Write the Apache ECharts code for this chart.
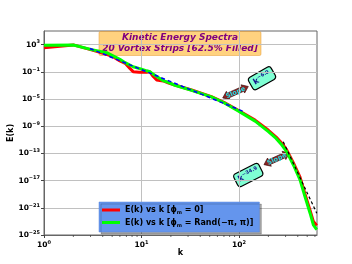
<!DOCTYPE html>
<html><head><meta charset="utf-8">
<script src="https://cdn.jsdelivr.net/npm/echarts@6/dist/echarts.min.js"></script>
<style>html,body{margin:0;padding:0;background:#fff}#c{width:352px;height:264px}</style>
</head><body><div id="c"></div>
<script>
// ---- data ----
const redK = [1, 2, 3, 4.4, 5.2, 6, 6.8, 7.6, 8.2, 9.5, 11.3, 12.2, 13.2, 14.3, 16.7, 19, 22, 32.6, 52, 70, 98, 146, 200, 240, 275, 308, 361, 422, 475, 535, 578, 626];
const redE = [3.5e2, 9.0e2, 1.8e2, 3.7e1, 1.4e1, 4.0, 1.8, 3.2e-1, 1.05e-1, 8.9e-2, 8.5e-2, 1.0e-1, 2.0e-2, 6.3e-3, 4.5e-3, 2.2e-3, 1.15e-3, 2.1e-4, 2.2e-5, 3.2e-6, 2.2e-7, 7.9e-9, 2.5e-10, 2.5e-11, 3.2e-12, 3.2e-13, 4.0e-15, 3.2e-17, 1.0e-19, 4.0e-22, 1.0e-23, 2.5e-24];
const greenK = [1, 2, 3, 4.4, 6, 6.8, 8.2, 10, 11.3, 12.2, 13, 14.3, 16.7, 19, 22, 32.6, 52, 70, 98, 146, 200, 240, 275, 308, 361, 422, 475, 535, 578, 626];
const greenE = [8.3e2, 8.9e2, 2.0e2, 6.5e1, 6.9, 2.2, 5.6e-1, 2.5e-1, 1.4e-1, 1.0e-1, 5.0e-2, 2.0e-2, 5.0e-3, 2.5e-3, 1.05e-3, 1.9e-4, 2.0e-5, 2.8e-6, 1.8e-7, 5.6e-9, 1.6e-10, 1.6e-11, 1.7e-12, 1.8e-13, 2.0e-15, 1.3e-17, 4.0e-20, 1.6e-22, 3.2e-24, 6.3e-25];
const fit6K = [2.96, 115];
const fit6E = [2.7e2, 1.2e-7];
const fit34K = [284, 626];
const fit34E = [5.0e-12, 1.6e-22];
const xTicks = [1, 10, 100];
const yTicks = [1e-25, 1e-21, 1e-17, 1e-13, 1e-9, 1e-5, 1e-1, 1e3];
const minorK = [2, 3, 4, 5, 6, 7, 8, 9, 20, 30, 40, 50, 60, 70, 80, 90, 200, 300, 400, 500, 600];
const xMin = 1, xMax = 630;
const yMin = 1e-25, yMax = 1e5;
const titleLines = ['Kinetic Energy Spectra', '20 Vortex Strips [62.5% Filled]'];
const seriesNames = ['E(k) vs k [ϕm = 0]', 'E(k) vs k [ϕm = Rand(−π, π)]'];
const slopeLabels = ['−6.0', '−34.9'];
const xName = 'k', yName = 'E(k)';

// ---- chart ----
const FONT = 'DejaVu Sans';
const chart = echarts.init(document.getElementById('c'), null, {renderer: 'canvas'});
const pairs = (ks, es) => ks.map((k, i) => [k, es[i]]);
function powLabel(v) {
  const e = Math.round(Math.log10(v));
  return '{b|10}{s|' + String(e).replace('-', '−') + '}';
}
const tickRich = {
  b: {fontFamily: FONT, fontWeight: 'bold', fontSize: 7.5, color: '#000', lineHeight: 10},
  s: {fontFamily: FONT, fontWeight: 'bold', fontSize: 5, color: '#000', verticalAlign: 'top', lineHeight: 10}
};
function legendFmt(name) {
  const i = seriesNames.indexOf(name);
  if (i === 0) return '{t|E(k) vs k [}{p|ϕ}{s|m}{t| = 0]}';
  return '{t|E(k) vs k [}{p|ϕ}{s|m}{t| = Rand(−π, π)]}';
}
function annot(cx, cy, ang, bx, by, bang, bw, sup) {
  return [
    {type: 'group', x: cx, y: cy, rotation: ang, z: 100, children: [
      {type: 'polygon', shape: {points: [[-14,0],[-8,-4.5],[-8,-2.5],[8,-2.5],[8,-4.5],[14,0],[8,4.5],[8,2.5],[-8,2.5],[-8,4.5]]},
        style: {fill: '#8b2323', stroke: '#3a0a0a', lineWidth: 0.6}},
      {type: 'text', style: {text: 'Slope', x: 0, y: 0.5, align: 'center', verticalAlign: 'middle', fill: '#20e0e8',
        fontFamily: FONT, fontWeight: 'bold', fontSize: 6.5}}
    ]},
    {type: 'group', x: bx, y: by, rotation: bang, z: 100, children: [
      {type: 'rect', shape: {x: -bw/2, y: -7, width: bw, height: 14, r: 3}, style: {fill: '#7fffd4', stroke: '#000', lineWidth: 1.2}},
      {type: 'text', style: {text: '{k|k}{s|' + sup + '}', x: 0, y: 0, align: 'center', verticalAlign: 'middle',
        rich: {k: {fontFamily: FONT, fontWeight: 'bold', fontSize: 8, fill: '#14148c', lineHeight: 10},
               s: {fontFamily: FONT, fontWeight: 'bold', fontSize: 5, fill: '#14148c', verticalAlign: 'top', lineHeight: 10}}}}
    ]}
  ];
}
const option = {
  animation: false,
  backgroundColor: '#fff',
  grid: {left: 44, top: 31, right: 35, bottom: 29, show: true, borderColor: '#666', borderWidth: 1,
    containLabel: false, outerBoundsMode: 'none'},
  xAxis: {
    type: 'log', logBase: 10, min: xMin, max: xMax,
    name: xName, nameLocation: 'middle', nameGap: 13.5, nameMoveOverlap: false,
    nameTextStyle: {fontFamily: FONT, fontWeight: 'bold', fontSize: 8, color: '#000'},
    axisLine: {lineStyle: {color: '#666'}},
    axisTick: {show: true, length: 3, lineStyle: {color: '#444'}, customValues: xTicks},
    axisLabel: {margin: 5, formatter: powLabel, rich: tickRich, customValues: xTicks},
    splitLine: {show: true, lineStyle: {color: '#c0c0c0', width: 1}}
  },
  yAxis: {
    type: 'log', logBase: 10, min: yMin, max: yMax,
    name: yName, nameLocation: 'middle', nameGap: 29, nameRotate: 90, nameMoveOverlap: false,
    nameTextStyle: {fontFamily: FONT, fontWeight: 'bold', fontSize: 8, color: '#000'},
    axisLine: {lineStyle: {color: '#666'}},
    axisTick: {show: true, length: 3, lineStyle: {color: '#444'}, customValues: yTicks},
    axisLabel: {margin: 4, formatter: powLabel, rich: tickRich, customValues: yTicks},
    splitLine: {show: true, lineStyle: {color: '#c0c0c0', width: 1}}
  },
  legend: {
    left: 99, top: 202, orient: 'vertical', icon: 'rect',
    itemWidth: 18, itemHeight: 3, itemGap: 3,
    padding: [4, 6, 4, 3],
    backgroundColor: '#6495ed', borderColor: '#5a86d8', borderWidth: 0.5,
    shadowColor: 'rgba(0,0,0,0.35)', shadowOffsetX: 2, shadowOffsetY: 2, shadowBlur: 0,
    data: seriesNames,
    formatter: legendFmt,
    textStyle: {
      fontFamily: FONT, fontWeight: 'bold', fontSize: 8, color: '#000',
      rich: {
        t: {fontFamily: FONT, fontWeight: 'bold', fontSize: 8, color: '#000', lineHeight: 11},
        p: {fontFamily: FONT, fontWeight: 'bold', fontSize: 8, color: '#000', lineHeight: 11},
        s: {fontFamily: FONT, fontWeight: 'bold', fontSize: 5, color: '#000', verticalAlign: 'bottom', lineHeight: 11}
      }
    }
  },
  series: [
    {name: seriesNames[0], type: 'line', data: pairs(redK, redE), showSymbol: false, symbol: 'none',
      lineStyle: {color: '#ff0000', width: 3}, itemStyle: {color: '#ff0000'}, z: 2},
    {name: seriesNames[1], type: 'line', data: pairs(greenK, greenE), showSymbol: false, symbol: 'none',
      lineStyle: {color: '#00ff00', width: 3}, itemStyle: {color: '#00ff00'}, z: 3},
    {name: 'fit6', type: 'line', data: pairs(fit6K, fit6E), showSymbol: false, symbol: 'none',
      lineStyle: {color: '#0000ff', width: 1.5, type: [4, 3]}, z: 4},
    {name: 'fit34', type: 'line', data: pairs(fit34K, fit34E), showSymbol: false, symbol: 'none',
      lineStyle: {color: '#000', width: 1.2, type: [3, 2.5]}, z: 4},
    {name: 'minor', type: 'custom', data: minorK.map(k => [k, yMin]), silent: true, clip: false, z: 5,
      renderItem: function (params, api) {
        const p = api.coord([api.value(0), api.value(1)]);
        return {type: 'line', shape: {x1: p[0], y1: p[1], x2: p[0], y2: p[1] + 2}, style: {stroke: '#444', lineWidth: 0.8}};
      }}
  ],
  graphic: [
    {type: 'group', z: 50, children: [
      {type: 'rect', shape: {x: 99, y: 31.5, width: 162, height: 24, r: 1.5},
        style: {fill: 'rgba(255,165,0,0.5)', stroke: 'rgba(230,150,40,0.6)', lineWidth: 0.8}},
      {type: 'text', style: {text: titleLines[0], x: 180, y: 38, align: 'center', verticalAlign: 'middle',
        fill: '#800080', fontFamily: FONT, fontWeight: 'bold', fontStyle: 'italic', fontSize: 9}},
      {type: 'text', style: {text: titleLines[1], x: 180, y: 49, align: 'center', verticalAlign: 'middle',
        fill: '#800080', fontFamily: FONT, fontWeight: 'bold', fontStyle: 'italic', fontSize: 9}}
    ]}
  ].concat(annot(235.5, 92.2, 0.42, 262, 78.3, 0.52, 26, slopeLabels[0]))
   .concat(annot(276.7, 158.8, 0.43, 248.3, 175, 0.47, 28, slopeLabels[1]))
};
chart.setOption(option);
</script></body></html>
